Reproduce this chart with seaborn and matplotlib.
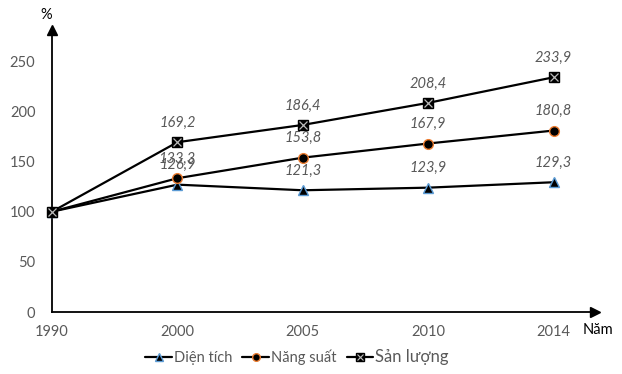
import numpy as np
import pandas as pd
import matplotlib
matplotlib.use("Agg")
import matplotlib.pyplot as plt
import seaborn as sns
from matplotlib.lines import Line2D

years = ["1990", "2000", "2005", "2010", "2014"]
dien_tich = [100, 126.9, 121.3, 123.9, 129.3]
nang_suat = [100, 133.3, 153.8, 167.9, 180.8]
san_luong = [100, 169.2, 186.4, 208.4, 233.9]
yticks = [0, 50, 100, 150, 200, 250]

sns.set_theme(style="white")
plt.rcParams['font.family'] = ['Lato', 'DejaVu Sans']

fig = plt.figure(figsize=(6.22, 3.74), dpi=100)
W, H = 622, 374
ax = fig.add_axes([52 / W, (H - 312) / H, (595 - 52) / W, (312 - 30) / H])

pos = np.arange(len(years))
ax.set_xlim(0, 4.33)
ax.set_ylim(0, 281)

gray = "#595959"
series = [
    ("Diện tích", dien_tich, "^", "#5B9BD5", 7),
    ("Năng suất", nang_suat, "o", "#ED7D31", 7),
    ("Sản lượng", san_luong, "s", "#000000", 7),
]
for name, vals, mk, ec, ms in series:
    df = pd.DataFrame({"x": pos, "y": vals})
    sns.lineplot(data=df, x="x", y="y", ax=ax, color="black", lw=1.6,
                 marker=mk, markersize=ms, markerfacecolor="black",
                 markeredgecolor=ec, markeredgewidth=1.0, clip_on=False, zorder=3)
    if mk == "s":
        ax.plot(pos, vals, ls="none", marker="x", markersize=6, color="#bbbbbb",
                markeredgewidth=0.9, clip_on=False, zorder=4)
    for i in range(1, len(years)):
        ax.annotate(f"{vals[i]:.1f}".replace(".", ","), (pos[i], vals[i]),
                    xytext=(0, 14), textcoords="offset points", ha="center",
                    va="center", fontsize=10.5, style="italic", color=gray)

ax.set_xticks(pos)
ax.set_xticklabels(years)
ax.set_yticks(yticks)
ax.tick_params(axis="both", colors="black", labelcolor=gray, labelsize=10.5,
               length=4, width=1, direction="out")
ax.tick_params(axis="x", pad=5)
ax.tick_params(axis="y", pad=8)
ax.set_xlabel("")
ax.set_ylabel("")
for s in ["top", "right"]:
    ax.spines[s].set_visible(False)
for s in ["left", "bottom"]:
    ax.spines[s].set_color("black")
    ax.spines[s].set_linewidth(1.3)
ax.plot(1, 0, ">", color="black", markersize=7, transform=ax.transAxes, clip_on=False)
ax.plot(0, 1, "^", color="black", markersize=7, transform=ax.transAxes, clip_on=False)

fig.text(46 / W, 1 - 15 / H, "%", ha="center", va="center", fontsize=10.5, color="black")
fig.text(598 / W, 1 - 330 / H, "Năm", ha="center", va="center", fontsize=10.5, color="black")

handles = [
    Line2D([], [], color="black", lw=1.6, marker="^", markersize=5.5,
           markerfacecolor="black", markeredgecolor="#5B9BD5"),
    Line2D([], [], color="black", lw=1.6, marker="o", markersize=5.5,
           markerfacecolor="black", markeredgecolor="#ED7D31"),
    (Line2D([], [], color="black", lw=1.6, marker="s", markersize=5.5,
            markerfacecolor="black", markeredgecolor="black"),
     Line2D([], [], ls="none", marker="x", markersize=4.5, color="#bbbbbb",
            markeredgewidth=0.8)),
]
leg = fig.legend(handles, [s[0] for s in series], loc="center",
                 bbox_to_anchor=(297 / W, 1 - 357 / H), ncol=3, frameon=False,
                 fontsize=10.5, handlelength=1.8, handletextpad=0.15,
                 columnspacing=0.7)
for t in leg.get_texts():
    t.set_color(gray)
leg.get_texts()[2].set_fontsize(12)

fig.savefig("out.png", dpi=100)
